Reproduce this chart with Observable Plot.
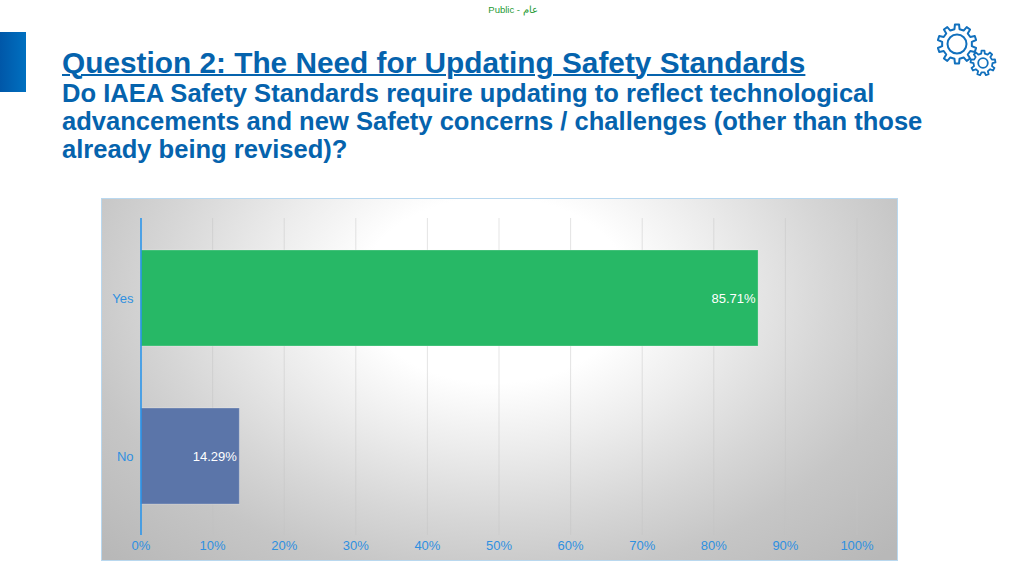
<!DOCTYPE html>
<html>
<head>
<meta charset="utf-8">
<script src="https://cdn.jsdelivr.net/npm/d3@7"></script>
<script src="https://cdn.jsdelivr.net/npm/@observablehq/plot@0.6"></script>
<style>
  html, body { margin: 0; padding: 0; background: #fff; overflow: hidden; }
  body { width: 1024px; height: 575px; position: relative; font-family: "Liberation Sans", Arial, sans-serif; }
  #public { position: absolute; left: 0; width: 1026px; top: 4px; text-align: center; font-size: 9.5px; line-height: 12px; color: #1f9a33; }
  #accent { position: absolute; left: 0; top: 32px; width: 26px; height: 60px; background: linear-gradient(90deg, #0057a8, #0070c0); }
  #title { position: absolute; left: 62px; top: 46px; font-size: 29.8px; font-weight: bold; line-height: 34px; color: #0563ad; text-decoration: underline; text-decoration-thickness: 2px; white-space: nowrap; }
  #question { position: absolute; left: 62px; top: 79px; font-size: 25.55px; line-height: 28px; font-weight: bold; color: #0563ad; white-space: nowrap; }
  #gears { position: absolute; left: 930px; top: 20px; }
  #panel { position: absolute; left: 101px; top: 198px; width: 797px; height: 363px; box-sizing: border-box;
           box-shadow: inset 0 0 0 1px #b9d8ef;
           background: radial-gradient(ellipse 420px 290px at 394px 92px, #ffffff 0%, #ffffff 32%, #ececec 55%, #d6d6d6 80%, #c6c6c6 100%, #b8b8b8 130%); }
  #panel svg { position: absolute; left: 0; top: 0; background: transparent; }
</style>
</head>
<body>
<div id="public">Public - عام</div>
<div id="accent"></div>
<div id="title">Question 2: The Need for Updating Safety Standards</div>
<div id="question">Do IAEA Safety Standards require updating to reflect technological<br>advancements and new Safety concerns / challenges (other than those<br>already being revised)?</div>
<svg id="gears" width="72" height="64" viewBox="0 0 72 64"></svg>
<div id="panel"></div>
<script>
const categories = ["Yes", "No"];
const barLengths = [86.25, 13.8];
const barLabels = ["85.71%", "14.29%"];
const barColors = ["#27b866", "#5b75a9"];
const xTicks = [0, 10, 20, 30, 40, 50, 60, 70, 80, 90, 100];

const rows = categories.map((category, i) => ({
  category, length: barLengths[i], label: barLabels[i], color: barColors[i]
}));

const chart = Plot.plot({
  width: 797,
  height: 363,
  marginLeft: 39.5,
  marginRight: 41.5,
  marginTop: 20,
  marginBottom: 25,
  style: { background: "transparent", fontFamily: "'Liberation Sans', Arial, sans-serif", fontSize: "13px" },
  x: { domain: [0, 100], ticks: xTicks, label: null },
  y: { domain: categories, paddingInner: 0.3924, paddingOuter: 0.2025, round: false, label: null },
  marks: [
    Plot.gridX(xTicks.slice(1), { stroke: "#c4c4c4", strokeOpacity: 0.45, strokeWidth: 1, insetBottom: 1 }),
    Plot.barX(rows, { x: "length", y: "category", fill: "color", stroke: "#ffffff", strokeOpacity: 0.25, strokeWidth: 1 }),
    Plot.ruleX([0], { stroke: "#2b95ea", strokeWidth: 1.6, insetBottom: 1 }),
    Plot.text(rows, { x: "length", y: "category", text: "label", fill: "#fff", textAnchor: "end", dx: -3, fontSize: 13 }),
    Plot.axisX(xTicks, { tickSize: 0, tickPadding: 4, tickFormat: d => d + "%", color: "#2f90e0", fontSize: 13, label: null, anchor: "bottom" }),
    Plot.axisY({ tickSize: 0, tickPadding: 7.5, color: "#2f90e0", fontSize: 13, label: null, anchor: "left" })
  ]
});
document.getElementById("panel").appendChild(chart);

// decorative gears icon
function gearPath(cx, cy, rOut, rIn, teeth) {
  const pts = [];
  const step = 2 * Math.PI / teeth;
  for (let i = 0; i < teeth; i++) {
    const a = i * step - Math.PI / 2;
    const w = step * 0.17;
    const w2 = step * 0.27;
    pts.push([cx + rIn * Math.cos(a - w2), cy + rIn * Math.sin(a - w2)]);
    pts.push([cx + rOut * Math.cos(a - w), cy + rOut * Math.sin(a - w)]);
    pts.push([cx + rOut * Math.cos(a + w), cy + rOut * Math.sin(a + w)]);
    pts.push([cx + rIn * Math.cos(a + w2), cy + rIn * Math.sin(a + w2)]);
  }
  return "M" + pts.map(p => p[0].toFixed(2) + "," + p[1].toFixed(2)).join("L") + "Z";
}
const gears = d3.select("#gears");
const ink = "#1170bd";
[[27, 24, 19.5, 15, 10, 9.5, 2], [53, 43, 12.5, 9.5, 9, 4.8, 1.8]].forEach(([cx, cy, ro, ri, t, hole, sw]) => {
  gears.append("path").attr("d", gearPath(cx, cy, ro, ri, t)).attr("fill", "#fff").attr("stroke", ink).attr("stroke-width", sw).attr("stroke-linejoin", "round");
  gears.append("circle").attr("cx", cx).attr("cy", cy).attr("r", hole).attr("fill", "none").attr("stroke", ink).attr("stroke-width", sw);
});
</script>
</body>
</html>
